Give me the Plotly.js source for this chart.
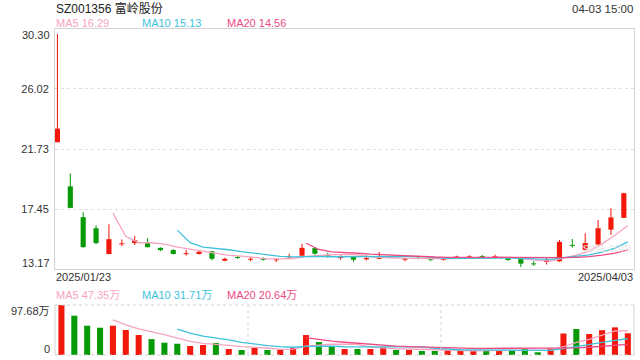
<!DOCTYPE html>
<html>
<head>
<meta charset="utf-8">
<script src="https://cdn.plot.ly/plotly-3.0.1.min.js"></script>
<style>html,body{margin:0;padding:0;background:#fff;}#chart{width:640px;height:360px;}</style>
</head>
<body>
<div id="chart"></div>
<script>
// ---- data ----
const dates = ["2025/01/23","2025/01/24","2025/01/27","2025/02/05","2025/02/06","2025/02/07","2025/02/10","2025/02/11","2025/02/12","2025/02/13","2025/02/14","2025/02/17","2025/02/18","2025/02/19","2025/02/20","2025/02/21","2025/02/24","2025/02/25","2025/02/26","2025/02/27","2025/02/28","2025/03/03","2025/03/04","2025/03/05","2025/03/06","2025/03/07","2025/03/10","2025/03/11","2025/03/12","2025/03/13","2025/03/14","2025/03/17","2025/03/18","2025/03/19","2025/03/20","2025/03/21","2025/03/24","2025/03/25","2025/03/26","2025/03/27","2025/03/28","2025/03/31","2025/04/01","2025/04/02","2025/04/03"];
const openP  = [22.22,19.07,16.87,16.08,14.24,14.93,15.02,15.04,14.68,14.52,14.23,14.24,14.43,13.76,13.99,13.83,13.90,13.79,14.00,14.12,14.66,14.16,13.95,14.04,13.86,13.90,14.07,13.83,13.95,13.90,13.83,13.99,14.00,14.09,14.02,13.95,13.88,13.55,13.67,13.72,14.88,14.54,14.92,15.98,16.82];
const closeP = [23.19,17.53,14.73,15.02,15.30,14.95,15.22,14.73,14.52,14.24,14.27,14.40,13.90,13.90,13.96,13.90,13.83,13.86,14.05,14.68,14.26,14.09,14.02,13.83,13.95,13.97,14.00,13.90,13.90,13.83,13.90,14.03,14.07,14.02,14.04,13.81,13.55,13.50,13.79,15.11,14.82,15.02,16.08,16.85,18.58];
const highP  = [29.95,19.99,17.22,16.30,16.37,15.28,15.52,15.37,14.73,14.60,14.52,14.46,14.45,13.97,14.12,14.04,14.00,13.95,14.26,14.97,14.73,14.33,14.16,14.04,14.15,14.38,14.15,13.97,14.04,13.93,14.02,14.11,14.15,14.17,14.19,13.97,13.93,13.72,13.97,15.24,15.32,15.72,16.66,17.51,18.62];
const lowP   = [22.20,17.50,14.68,14.93,14.22,14.82,14.89,14.71,14.43,14.22,14.14,14.21,13.79,13.72,13.88,13.72,13.78,13.67,13.93,14.01,14.19,13.97,13.83,13.69,13.78,13.86,13.93,13.72,13.86,13.72,13.76,13.93,13.97,13.97,13.93,13.76,13.31,13.41,13.50,13.69,14.68,14.50,14.90,15.60,16.82];
// volume in 万
const volume = [97.68,76.8,57.2,53.3,57.2,48.8,39.0,31.0,24.0,22.0,17.6,19.5,23.4,11.7,9.8,13.7,9.8,10.4,13.7,39.0,25.4,16.3,11.7,11.7,11.7,15.5,9.8,9.8,7.8,7.8,9.0,7.8,9.0,9.0,9.3,8.8,12.0,5.3,12.5,42.0,50.8,41.0,48.5,54.0,42.5];

const priceTicks = [17.45, 21.73, 26.02];
const priceEdgeLabels = ["30.30", "13.17"];
const volLabels = ["97.68万", "0"];
const priceMaLabels = ["MA5 16.29", "MA10 15.13", "MA20 14.56"];
const volMaLabels = ["MA5 47.35万", "MA10 31.71万", "MA20 20.64万"];
const titleText = "SZ001356 富岭股份";
const timeText = "04-03 15:00";
const maPeriods = [5, 10, 20];

// ---- styles ----
const RED = "#f2180c", GREEN = "#079a07";
const MA_COLORS = ["#f7a4c1", "#3ec2dc", "#ec4b82"];
const FONT = "Liberation Sans, Arial, Noto Sans CJK SC, sans-serif";

function ma(arr, n) {
  return arr.map((v, i) => {
    if (i < n - 1) return null;
    let s = 0;
    for (let k = i - n + 1; k <= i; k++) s += arr[k];
    return s / n;
  });
}

const up = closeP.map((c, i) => c >= openP[i]);
const colors = up.map(u => u ? RED : GREEN);
const bodyBase = closeP.map((c, i) => Math.min(c, openP[i]));
const bodyH = closeP.map((c, i) => Math.max(Math.abs(c - openP[i]), 0.07));
const wickH = highP.map((h, i) => h - lowP[i]);

const traces = [];
traces.push({type: "bar", x: dates, y: wickH, base: lowP, width: 0.08,
  marker: {color: colors, line: {width: 0}}, xaxis: "x", yaxis: "y", hoverinfo: "skip"});
traces.push({type: "bar", x: dates, y: bodyH, base: bodyBase, width: 0.4,
  marker: {color: colors, line: {width: 0}}, xaxis: "x", yaxis: "y", hoverinfo: "skip"});
maPeriods.forEach((p, k) => {
  traces.push({type: "scatter", mode: "lines", x: dates, y: ma(closeP, p),
    line: {color: MA_COLORS[k], width: 1.3}, xaxis: "x3", yaxis: "y", hoverinfo: "skip"});
});
traces.push({type: "bar", x: dates, y: volume, width: 0.47,
  marker: {color: colors, line: {width: 0}}, xaxis: "x2", yaxis: "y2", hoverinfo: "skip"});
maPeriods.forEach((p, k) => {
  traces.push({type: "scatter", mode: "lines", x: dates, y: ma(volume, p),
    line: {color: MA_COLORS[k], width: 1.3}, xaxis: "x2", yaxis: "y2", hoverinfo: "skip"});
});

// pixel helpers (plot area: x 55..634, y 29..355)
const PT = 29, PB = 355, PL = 55, PR = 634;
const py = v => (PB - v) / (PB - PT);
const px = v => (v - PL) / (PR - PL);
const priceDomain = [py(269), 1];
const volDomain = [0, py(305)];

const xr = [-0.19, 44.79];
const shift = 0.31;
const xrShift = [xr[0] - shift, xr[1] - shift];

const annotations = [];
const ann = (text, x, y, xa, color, size) => annotations.push({
  text, x: px(x), y: py(y), xref: "paper", yref: "paper", xanchor: xa, yanchor: "middle",
  showarrow: false, font: {family: FONT, size: size || 11, color: color || "#333"}, borderpad: 0
});
ann(titleText, 55, 9, "left", "#222", 12);
ann(timeText, 634, 9, "right", "#333", 11.5);
const legX = [55, 140.7, 225.5];
priceMaLabels.forEach((t, k) => ann(t, legX[k], 23, "left", MA_COLORS[k], 11));
volMaLabels.forEach((t, k) => ann(t, legX[k], 295, "left", MA_COLORS[k], 11));
ann(priceEdgeLabels[0], 51, 35, "right");
ann(priceEdgeLabels[1], 51, 263, "right");
ann(volLabels[0], 51, 311, "right");
ann(volLabels[1], 51, 349, "right");
ann(dates[0], 55, 277, "left");
ann(dates[dates.length - 1], 634, 277, "right");
ann("sina.com", 607, 248, "center", "#e6e6e6", 12);

const LC = "#d4d4d4";
const shapes = [
  {type: "line", xref: "paper", yref: "paper", x0: 0, x1: 1, y0: volDomain[1], y1: volDomain[1], line: {color: LC, width: 1, dash: "dot"}},
  {type: "line", xref: "paper", yref: "paper", x0: 0, x1: 1, y0: 0, y1: 0, line: {color: LC, width: 1, dash: "dot"}},
  {type: "line", xref: "paper", yref: "paper", x0: 0, x1: 0, y0: 0, y1: volDomain[1], line: {color: LC, width: 1}},
  {type: "line", xref: "paper", yref: "paper", x0: 1, x1: 1, y0: 0, y1: volDomain[1], line: {color: LC, width: 1}},
  {type: "line", xref: "paper", yref: "paper", x0: 1/3, x1: 1/3, y0: 0, y1: volDomain[1], line: {color: LC, width: 1, dash: "dot"}},
  {type: "line", xref: "paper", yref: "paper", x0: 2/3, x1: 2/3, y0: 0, y1: volDomain[1], line: {color: LC, width: 1, dash: "dot"}}
];

const layout = {
  width: 640, height: 360,
  margin: {l: PL, r: 640 - PR, t: PT, b: 360 - PB, pad: 0},
  paper_bgcolor: "#fff", plot_bgcolor: "#fff",
  showlegend: false, barmode: "overlay", hovermode: false,
  font: {family: FONT, size: 11, color: "#333"},
  xaxis: {domain: [0, 1], anchor: "y", type: "category", range: xr, showticklabels: false,
    showgrid: false, zeroline: false, showline: true, mirror: true, linecolor: LC, linewidth: 1, ticks: ""},
  xaxis3: {overlaying: "x", anchor: "y", type: "category", range: xrShift, visible: false},
  yaxis: {domain: priceDomain, anchor: "x", range: [13.17, 30.30], tickvals: priceTicks,
    ticktext: priceTicks.map(v => v.toFixed(2)), showgrid: true, gridcolor: "#dedede", griddash: "dot",
    gridwidth: 1, zeroline: false, showline: true, mirror: true, linecolor: LC, ticks: "",
    tickfont: {family: FONT, size: 11, color: "#333"}, ticklabelstandoff: 3},
  xaxis2: {domain: [0, 1], anchor: "y2", type: "category", range: xrShift, visible: false},
  yaxis2: {domain: volDomain, anchor: "x2", range: [0, 97.68], showticklabels: false,
    showgrid: false, zeroline: false, showline: false, ticks: ""},
  annotations, shapes
};

Plotly.newPlot("chart", traces, layout, {staticPlot: true, displayModeBar: false});
</script>
</body>
</html>
